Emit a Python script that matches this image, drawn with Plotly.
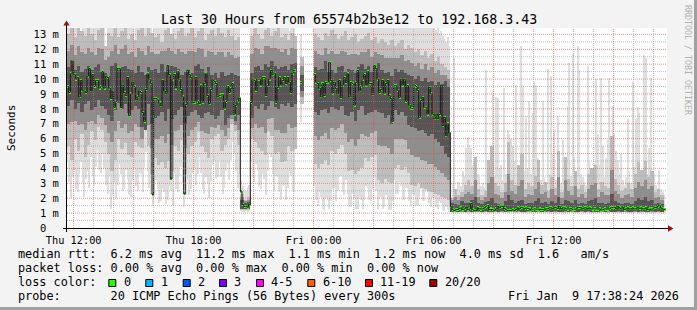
import numpy as np
import pandas as pd
import plotly.graph_objects as go

# ---------------- data ----------------
T_START = "2026-01-08 11:40:00"
T_END = "2026-01-09 17:40:00"
MEDIAN_STEP_MIN = 5
SMOKE_STEP_MIN = 10
Y_MAX = 13.43

x_tick_vals = ["2026-01-08 12:00", "2026-01-08 18:00", "2026-01-09 00:00",
               "2026-01-09 06:00", "2026-01-09 12:00"]
x_tick_text = ["Thu 12:00", "Thu 18:00", "Fri 00:00", "Fri 06:00", "Fri 12:00"]
y_tick_vals = [0, 1, 2, 3, 4, 5, 6, 7, 8, 9, 10, 11, 12, 13]
y_tick_text = ["0\u00a0\u00a0", "1 m", "2 m", "3 m", "4 m", "5 m", "6 m", "7 m",
               "8 m", "9 m", "10 m", "11 m", "12 m", "13 m"]

N = None
# median rtt (ms), one value per 5 minutes
median_ms = [
    9.5, 9.1, 10.35, 11.2, 10.3, 10.0, 10.1, 8.8, 9.9, 9.2,
    9.2, 9.1, 10.2, 10.7, 9.2, 10.3, 9.5, 9.9, 9.9, 9.4,
    9.5, 10.5, 9.4, 10.2, 10.1, 9.4, 8.7, 9.2, 8.1, 8.5,
    10.7, 10.7, 8.1, 9.6, 9.1, 8.9, 10.1, 7.56, 9.0, 9.8,
    9.5, 8.6, 8.8, 9.2, 9.1, 7.76, 7.16, 9.3, 10.35, 10.0,
    9.7, 2.25, 8.7, 8.7, 8.6, 8.4, 8.2, 9.9, 9.2, 9.0,
    10.9, 10.3, 3.3, 10.0, 10.3, 9.4, 10.5, 10.0, 9.3, 8.8,
    2.3, 8.3, 10.6, 10.3, 10.1, 8.4, 8.45, 10.1, 8.5, 8.35,
    9.55, 8.45, 9.7, 10.35, 8.9, 8.35, 9.3, 10.0, 9.85, 9.7,
    8.8, 8.9, 8.95, 8.95, 8.05, 8.5, 9.5, 9.1, 9.35, 9.7,
    7.65, 8.25, 8.5, 8.7, 2.47, 1.58, 1.43, 1.47, 1.4, 1.58,
    8.43, 10.0, 9.9, 9.25, 10.0, 10.0, 9.6, 10.1, 10.1, 8.9,
    9.55, 10.0, 10.58, 10.3, 10.4, 8.43, 9.45, 10.1, 9.6, 9.9,
    10.1, 9.7, 10.1, 9.8, 9.1, 10.4, 10.58, N, N, N,
    9.77, N, N, N, N, N, N, N, 10.3, 9.8,
    9.7, 9.4, 8.8, 9.7, 8.9, 9.77, 9.8, 11.1, 9.9, 9.06,
    9.8, 9.35, 9.0, 9.9, 8.77, 9.6, 10.1, 9.77, 10.35, 8.8,
    9.77, 9.7, 8.25, 9.77, 10.58, 9.2, 9.5, 10.0, 10.3, 9.6,
    10.5, 9.7, 9.7, 8.95, 10.9, 10.7, 10.0, 9.1, 9.3, 9.9,
    9.06, 9.7, 9.9, 8.88, 8.68, 7.16, 9.55, 9.55, 9.25, 8.77,
    10.0, 9.6, 10.0, 8.5, 9.55, 8.25, 8.05, 8.0, 9.6, 9.5,
    9.25, 7.43, 8.55, 8.77, 8.12, 8.1, 7.65, 9.45, 9.0, 7.65,
    7.33, 7.65, 7.33, 7.62, 9.6, 6.87, 7.43, 6.2, 7.0, 6.38,
    1.42, 1.24, 1.17, 1.24, 1.24, 1.31, 1.35, 1.24, 1.28, 1.40,
    1.24, 1.28, 1.64, 1.24, 1.17, 1.17, 1.35, 1.28, 1.24, 1.28,
    1.35, 1.46, 1.51, 1.24, 1.28, 1.24, 1.17, 1.28, 1.46, 1.35,
    1.46, 1.46, 1.31, 1.24, 1.17, 1.17, 1.17, 1.24, 1.17, 1.24,
    1.35, 1.28, 1.40, 1.35, 1.28, 1.35, 1.31, 1.28, 1.20, 1.24,
    1.28, 1.24, 1.24, 1.28, 1.24, 1.24, 1.20, 1.28, 1.28, 1.35,
    1.35, 1.28, 1.40, 1.35, 1.31, 1.46, 1.28, 1.35, 1.35, 1.28,
    1.24, 1.28, 1.31, 1.24, 1.24, 1.28, 1.40, 1.35, 1.35, 1.28,
    1.35, 1.35, 1.28, 1.35, 1.28, 1.24, 1.28, 1.24, 1.24, 1.28,
    1.20, 1.24, 1.28, 1.24, 1.24, 1.28, 1.35, 1.35, 1.40, 1.28,
    1.46, 1.35, 1.28, 1.40, 1.24, 1.28, 1.35, 1.28, 1.28, 1.35,
    1.28, 1.28, 1.40, 1.31, 1.35, 1.28, 1.28, 1.35, 1.24, 1.28,
    1.28, 1.28, 1.40, 1.35, 1.46, 1.53, 1.35, 1.28, 1.24, N,
]

# fastest / slowest ping (ms), one value per 5 minutes
ping_min = [
    4.6, 3.1, 2.0, 3.4, 3.9, 2.6, 2.4, 3.6, 4.4, 3.0,
    2.1, 3.3, 3.8, 2.7, 4.8, 3.5, 2.9, 4.1, 5.2, 3.9,
    3.7, 5.0, 4.0, 2.9, 2.3, 3.5, 1.3, 2.2, 3.0, 2.0,
    2.9, 4.3, 3.6, 2.5, 2.6, 3.9, 3.3, 2.2, 2.1, 3.2,
    4.0, 2.8, 2.5, 3.7, 3.6, 2.4, 4.0, 5.1, 3.8, 2.7,
    2.3, 1.5, 2.1, 3.2, 2.6, 1.7, 1.8, 2.7, 2.4, 1.6,
    1.9, 2.8, 2.5, 1.5, 3.7, 2.6, 2.4, 3.5, 4.1, 3.0,
    1.4, 2.3, 3.3, 2.2, 2.6, 3.7, 4.0, 2.9, 3.6, 4.8,
    3.7, 2.6, 2.3, 3.4, 3.0, 2.0, 3.1, 4.2, 4.5, 3.3,
    3.4, 4.6, 3.4, 2.3, 2.7, 3.8, 4.3, 3.2, 4.6, 5.8,
    5.0, 3.8, 2.7, 3.6, 1.15, 1.1, 1.1, 1.12, 1.1, 1.15,
    4.5, 3.4, 3.1, 4.3, 3.9, 2.8, 2.6, 3.6, 3.3, 2.2,
    3.8, 5.0, 4.8, 3.6, 2.5, 3.5, 3.4, 2.4, 1.9, 2.8,
    2.9, 1.9, 2.7, 3.8, 3.5, 2.5, 2.4, N, N, N,
    7.1, N, N, N, N, N, N, N, 2.8, 1.9,
    1.5, 2.4, 2.1, 1.3, 1.2, 2.0, 1.9, 1.25, 1.8, 2.6,
    2.7, 1.8, 2.5, 3.4, 3.5, 2.4, 2.2, 3.2, 2.2, 1.4,
    1.4, 2.3, 2.0, 1.3, 1.3, 2.1, 1.9, 1.3, 1.9, 2.8,
    2.7, 1.9, 1.8, 2.6, 3.4, 2.5, 1.3, 2.0, 2.1, 1.3,
    1.4, 2.2, 1.9, 1.2, 1.2, 1.8, 3.2, 2.3, 2.3, 3.1,
    2.8, 1.9, 1.9, 2.7, 2.6, 1.8, 1.5, 2.3, 2.2, 1.5,
    1.5, 2.1, 2.6, 1.8, 1.8, 2.5, 2.4, 1.7, 1.4, 2.0,
    2.0, 1.4, 1.3, 1.8, 1.7, 1.2, 1.15, 1.4, 1.2, 1.1,
    1.05, 1.03, 1.02, 1.04, 1.04, 1.06, 1.03, 1.02, 1.05, 1.03,
    1.02, 1.04, 1.04, 1.03, 1.06, 1.02, 1.03, 1.05, 1.02, 1.04,
    1.04, 1.06, 1.05, 1.03, 1.03, 1.02, 1.02, 1.05, 1.04, 1.03,
    1.06, 1.04, 1.03, 1.05, 1.02, 1.03, 1.05, 1.06, 1.04, 1.02,
    1.03, 1.05, 1.02, 1.04, 1.04, 1.02, 1.05, 1.03, 1.03, 1.06,
    1.06, 1.03, 1.02, 1.04, 1.04, 1.05, 1.03, 1.02, 1.02, 1.04,
    1.03, 1.05, 1.02, 1.03, 1.06, 1.04, 1.04, 1.02, 1.02, 1.03,
    1.04, 1.06, 1.05, 1.02, 1.02, 1.04, 1.03, 1.05, 1.05, 1.03,
    1.02, 1.03, 1.06, 1.04, 1.03, 1.02, 1.04, 1.05, 1.02, 1.03,
    1.04, 1.06, 1.03, 1.02, 1.03, 1.04, 1.05, 1.03, 1.02, 1.04,
    1.04, 1.02, 1.03, 1.05, 1.06, 1.04, 1.02, 1.03, 1.04, 1.02,
    1.03, 1.05, 1.02, 1.04, 1.04, 1.03, 1.05, 1.02, 1.03, 1.04,
    1.04, 1.02, 1.02, 1.03, 1.05, 1.04, 1.04, 1.05, 1.02, N,
]
ping_max = [
    13.8, 13.8, 13.8, 13.8, 13.8, 13.8, 13.6, 13.8, 12.9, 13.8,
    13.8, 13.8, 13.8, 13.8, 13.8, 13.8, 13.8, 13.8, 13.8, 13.8,
    13.8, 13.8, 13.8, 10.9, 13.8, 13.8, 13.8, 13.8, 13.8, 13.8,
    13.8, 13.8, 13.8, 13.8, 13.8, 13.8, 13.8, 13.8, 13.8, 13.8,
    11.0, 13.8, 13.8, 13.8, 13.8, 13.8, 13.8, 13.8, 13.8, 13.8,
    13.8, 9.9, 13.8, 13.8, 13.8, 13.8, 13.8, 13.8, 13.8, 13.8,
    13.8, 13.8, 10.4, 13.8, 13.8, 13.8, 13.8, 13.8, 13.8, 13.8,
    13.8, 13.8, 13.8, 13.8, 13.8, 13.8, 13.8, 13.8, 13.8, 13.8,
    13.8, 13.8, 13.8, 13.8, 13.8, 13.8, 13.8, 13.8, 13.8, 13.8,
    13.8, 13.8, 13.8, 13.8, 13.8, 13.8, 13.8, 13.8, 13.8, 13.8,
    13.8, 13.8, 13.8, 13.8, 3.2, 2.8, 2.6, 2.5, 2.7, 2.9,
    13.8, 13.8, 13.8, 13.8, 13.8, 13.8, 13.8, 13.8, 13.8, 13.8,
    13.8, 13.8, 13.8, 13.8, 13.8, 13.8, 13.8, 13.8, 13.8, 13.8,
    13.8, 13.8, 13.8, 13.2, 13.8, 13.8, 13.5, N, N, N,
    13.0, N, N, N, N, N, N, N, 13.8, 13.8,
    13.8, 13.8, 13.8, 13.8, 13.8, 13.8, 13.8, 13.8, 13.8, 13.8,
    13.8, 13.8, 13.8, 13.8, 13.8, 13.8, 13.8, 13.8, 13.8, 13.8,
    13.8, 13.8, 13.8, 13.8, 13.8, 13.8, 13.8, 13.8, 13.8, 13.8,
    13.8, 13.8, 13.8, 13.8, 13.8, 13.8, 13.8, 13.8, 13.8, 13.8,
    13.8, 13.8, 13.8, 13.8, 13.8, 13.8, 13.8, 13.8, 13.8, 13.8,
    13.8, 13.8, 13.8, 13.8, 13.8, 13.8, 13.8, 13.8, 13.8, 13.8,
    13.8, 13.8, 13.8, 13.8, 13.8, 13.8, 13.8, 13.8, 13.8, 13.8,
    13.5, 13.3, 13.6, 13.1, 13.2, 12.9, 12.7, 12.5, 12.8, 12.2,
    2.0, 3.0, 11.4, 2.6, 3.1, 3.1, 2.8, 3.8, 3.5, 5.4,
    6.1, 5.6, 5.4, 4.2, 4.4, 3.0, 3.6, 3.4, 2.8, 3.0,
    2.7, 10.6, 4.6, 4.3, 3.0, 9.3, 3.5, 8.8, 8.7, 4.0,
    4.2, 3.2, 9.4, 3.6, 6.6, 6.3, 6.0, 5.5, 4.5, 9.6,
    3.4, 3.0, 12.2, 9.6, 3.8, 7.5, 4.0, 8.5, 3.6, 7.7,
    9.8, 9.6, 4.7, 4.4, 3.2, 8.5, 3.4, 3.0, 10.7, 3.6,
    10.2, 5.0, 6.6, 3.2, 7.5, 3.8, 3.0, 5.9, 4.0, 3.3,
    8.2, 11.05, 3.5, 11.7, 4.8, 3.1, 12.2, 10.6, 3.6, 3.4,
    3.1, 2.9, 10.9, 4.4, 3.3, 2.9, 2.7, 10.0, 6.3, 4.2,
    10.1, 5.5, 3.4, 4.7, 5.9, 10.1, 4.0, 8.2, 6.3, 5.2,
    4.6, 3.6, 5.0, 3.2, 2.9, 3.4, 7.3, 3.8, 3.0, 9.8,
    4.1, 7.3, 8.1, 7.7, 3.9, 3.3, 11.6, 11.4, 3.6, 5.4,
    10.1, 3.2, 3.6, 2.9, 2.7, 3.9, 2.6, 2.4, 2.2, N,
]

# inner smoke bands (ms), one value per 10 minutes
mid_lo = [
    5.5, 4.6, 6.0, 5.2, 6.3, 4.8, 5.6, 6.5, 5.9, 6.8,
    6.6, 5.8, 5.0, 3.8, 4.6, 6.0, 5.3, 5.7, 4.9, 4.8,
    5.8, 5.5, 5.4, 6.8, 5.5, 3.6, 4.7, 4.2, 4.4, 4.0,
    4.5, 3.8, 5.5, 5.2, 5.9, 3.6, 5.0, 5.5, 5.8, 6.5,
    5.5, 5.1, 4.7, 6.0, 6.2, 6.3, 5.2, 5.6, 6.0, 7.0,
    6.5, 5.6, 1.2, 1.2, 1.2, 6.0, 5.8, 5.4, 5.2, 4.9,
    6.5, 6.2, 5.0, 5.1, 4.4, 4.5, 5.5, 5.2, 5.3, N,
    8.3, N, N, N, 4.3, 4.0, 4.3, 4.6, 4.2, 5.2,
    5.0, 5.3, 5.6, 5.0, 3.8, 3.9, 3.6, 3.8, 4.0, 4.7,
    4.5, 4.8, 4.9, 3.2, 3.0, 3.3, 3.1, 3.0, 4.0, 4.2,
    3.9, 4.1, 3.7, 2.9, 2.8, 3.0, 2.7, 2.6, 2.5, 2.4,
    2.3, 2.2, 2.1, 2.0, 1.9, 1.08, 1.06, 1.08, 1.07, 1.06,
    1.07, 1.08, 1.09, 1.06, 1.07, 1.08, 1.06, 1.07, 1.08, 1.06,
    1.09, 1.07, 1.06, 1.08, 1.07, 1.06, 1.08, 1.07, 1.09, 1.06,
    1.08, 1.06, 1.07, 1.08, 1.06, 1.07, 1.06, 1.08, 1.07, 1.06,
    1.07, 1.08, 1.09, 1.07, 1.06, 1.07, 1.08, 1.06, 1.07, 1.08,
    1.06, 1.07, 1.08, 1.06, 1.07, 1.09, 1.06, 1.07, 1.08, 1.06,
    1.07, 1.06, 1.08, 1.07, 1.06, 1.08, 1.07, 1.06, 1.08, N,
]
mid_hi = [
    13.0, 13.4, 12.8, 13.6, 13.2, 12.9, 13.4, 13.0, 12.6, 13.3,
    13.5, 12.2, 13.1, 12.9, 13.4, 12.8, 13.2, 13.6, 12.7, 13.0,
    12.6, 13.3, 13.4, 12.9, 13.6, 13.1, 12.8, 13.0, 12.5, 13.3,
    13.6, 13.0, 12.7, 13.2, 13.4, 12.9, 13.1, 13.5, 12.8, 13.2,
    13.4, 12.6, 13.0, 13.3, 12.9, 13.5, 13.1, 12.8, 13.3, 12.9,
    12.6, 12.8, 2.3, 1.9, 2.1, 12.9, 13.4, 13.0, 12.7, 13.3,
    13.5, 12.9, 13.2, 13.4, 12.8, 13.0, 12.6, 13.1, 12.9, N,
    11.5, N, N, N, 13.0, 12.8, 12.6, 13.1, 12.9, 13.3,
    13.0, 12.7, 12.9, 13.2, 12.6, 12.8, 13.0, 12.5, 12.7, 12.9,
    13.1, 12.6, 12.8, 12.4, 12.7, 12.5, 12.3, 12.6, 12.2, 12.4,
    12.6, 12.0, 12.3, 12.1, 11.8, 12.0, 11.6, 11.9, 11.4, 11.7,
    11.2, 11.5, 11.0, 10.8, 10.6, 2.0, 2.6, 2.2, 2.4, 2.9,
    3.2, 2.8, 4.8, 2.6, 2.2, 2.5, 4.6, 5.5, 3.0, 2.8,
    2.4, 3.0, 5.8, 3.2, 2.9, 4.2, 5.0, 2.6, 3.0, 2.8,
    3.5, 4.6, 2.9, 3.1, 2.5, 3.4, 2.7, 5.2, 2.4, 4.8,
    3.3, 2.8, 3.8, 2.6, 2.9, 2.4, 3.6, 4.0, 4.2, 2.6,
    3.1, 2.8, 2.7, 6.2, 3.3, 2.9, 2.5, 2.7, 3.0, 2.6,
    3.6, 4.4, 3.9, 4.5, 3.4, 3.8, 2.4, 2.6, 2.2, N,
]
quart_lo = [
    7.0, 7.1, 7.2, 6.9, 7.0, 6.6, 7.1, 7.2, 7.0, 7.6,
    7.4, 6.9, 6.4, 5.8, 6.5, 7.2, 6.7, 7.0, 6.4, 6.5,
    7.0, 6.8, 6.0, 6.7, 6.9, 5.4, 6.0, 6.0, 6.2, 5.7,
    6.3, 5.6, 6.5, 6.6, 6.9, 5.4, 6.2, 6.6, 6.8, 7.1,
    6.5, 6.4, 6.3, 6.8, 6.7, 6.9, 6.6, 6.2, 6.7, 7.3,
    6.9, 6.6, 1.25, 1.25, 1.25, 6.7, 7.0, 6.7, 6.8, 6.4,
    7.3, 7.4, 6.6, 6.6, 6.4, 6.4, 7.0, 6.7, 6.8, N,
    8.8, N, N, N, 6.2, 5.9, 6.2, 6.4, 6.0, 6.7,
    6.6, 6.7, 7.0, 6.4, 5.8, 6.0, 5.5, 6.0, 6.3, 6.2,
    6.1, 6.4, 6.5, 5.6, 5.5, 5.5, 5.4, 5.0, 6.0, 6.0,
    6.0, 5.9, 5.3, 4.9, 4.8, 4.8, 4.6, 4.5, 4.3, 4.3,
    4.1, 3.9, 3.7, 3.4, 3.2, 1.09, 1.08, 1.09, 1.1, 1.08,
    1.09, 1.1, 1.08, 1.09, 1.08, 1.1, 1.09, 1.08, 1.1, 1.09,
    1.08, 1.09, 1.1, 1.08, 1.09, 1.08, 1.1, 1.09, 1.08, 1.1,
    1.09, 1.08, 1.1, 1.09, 1.08, 1.1, 1.09, 1.08, 1.09, 1.1,
    1.08, 1.09, 1.1, 1.08, 1.09, 1.1, 1.08, 1.09, 1.08, 1.1,
    1.09, 1.08, 1.1, 1.09, 1.08, 1.09, 1.1, 1.08, 1.09, 1.08,
    1.1, 1.09, 1.08, 1.1, 1.09, 1.08, 1.09, 1.1, 1.08, N,
]
quart_hi = [
    11.9, 12.3, 11.6, 12.2, 11.8, 11.7, 12.1, 11.8, 11.6, 12.1,
    12.0, 11.3, 11.5, 11.9, 12.3, 11.7, 12.0, 12.3, 11.7, 11.8,
    11.5, 12.1, 11.9, 11.6, 12.2, 11.8, 11.7, 11.7, 11.9, 11.9,
    12.1, 11.9, 11.7, 12.0, 11.8, 11.7, 11.9, 11.9, 11.8, 12.1,
    12.0, 11.5, 11.9, 11.8, 11.6, 11.8, 11.8, 11.5, 11.8, 11.6,
    11.4, 11.5, 2.1, 1.8, 1.9, 11.7, 12.1, 12.0, 11.7, 12.2,
    12.2, 12.1, 12.1, 12.0, 11.8, 12.0, 11.6, 12.1, 12.0, N,
    10.9, N, N, N, 11.9, 11.7, 11.6, 12.1, 11.7, 11.9,
    11.7, 11.7, 11.9, 11.8, 11.6, 11.7, 11.7, 11.6, 11.8, 11.8,
    12.0, 11.5, 11.8, 11.7, 11.6, 11.4, 11.4, 11.4, 11.4, 11.4,
    11.6, 11.2, 11.3, 11.1, 10.9, 11.1, 10.7, 11.0, 10.6, 10.8,
    10.4, 10.6, 10.3, 10.3, 10.0, 1.85, 2.1, 1.9, 2.1, 2.3,
    2.4, 2.3, 3.2, 2.1, 1.9, 2.1, 3.0, 3.4, 2.3, 2.2,
    2.0, 2.4, 3.6, 2.5, 2.3, 2.8, 3.2, 2.1, 2.3, 2.2,
    2.6, 3.1, 2.3, 2.4, 2.0, 2.6, 2.2, 3.4, 2.0, 3.2,
    2.5, 2.2, 2.8, 2.1, 2.3, 2.0, 2.6, 2.9, 3.0, 2.1,
    2.4, 2.2, 2.2, 3.9, 2.5, 2.3, 2.0, 2.2, 2.3, 2.1,
    2.7, 3.1, 2.8, 3.2, 2.6, 2.8, 2.0, 2.1, 1.9, N,
]
dark_lo = [
    8.2, 8.6, 8.0, 8.4, 7.8, 8.3, 8.5, 7.9, 8.1, 8.6,
    8.2, 8.0, 7.6, 7.2, 7.9, 8.4, 8.0, 8.3, 7.7, 7.9,
    8.2, 8.0, 6.8, 6.6, 8.3, 7.0, 7.4, 7.5, 7.8, 7.2,
    8.0, 7.3, 7.6, 7.9, 8.1, 7.0, 7.5, 7.8, 7.9, 7.6,
    7.4, 7.7, 7.8, 7.6, 7.3, 7.5, 7.9, 6.9, 7.4, 7.6,
    7.2, 7.6, 1.3, 1.3, 1.3, 7.4, 8.2, 8.0, 8.3, 7.9,
    8.2, 8.5, 8.1, 8.0, 8.3, 8.2, 8.4, 8.1, 8.3, N,
    9.2, N, N, N, 7.8, 7.6, 7.9, 8.0, 7.7, 8.1,
    8.0, 7.9, 8.2, 7.6, 7.5, 7.8, 7.2, 7.9, 8.2, 7.6,
    7.7, 7.8, 7.9, 7.8, 7.7, 7.4, 7.6, 7.0, 7.9, 7.6,
    7.8, 7.5, 6.9, 6.8, 6.7, 6.5, 6.6, 6.4, 6.2, 6.3,
    6.0, 5.8, 5.5, 5.0, 4.8, 1.1, 1.09, 1.1, 1.12, 1.1,
    1.11, 1.09, 1.1, 1.12, 1.1, 1.11, 1.09, 1.1, 1.12, 1.1,
    1.11, 1.1, 1.09, 1.12, 1.1, 1.11, 1.1, 1.09, 1.12, 1.1,
    1.1, 1.11, 1.09, 1.1, 1.12, 1.1, 1.11, 1.1, 1.09, 1.12,
    1.1, 1.11, 1.1, 1.09, 1.12, 1.1, 1.11, 1.1, 1.09, 1.1,
    1.12, 1.1, 1.11, 1.09, 1.1, 1.12, 1.1, 1.11, 1.09, 1.1,
    1.11, 1.1, 1.12, 1.09, 1.1, 1.11, 1.1, 1.12, 1.1, N,
]
dark_hi = [
    10.8, 11.3, 10.6, 10.9, 10.5, 10.7, 10.9, 10.6, 10.8, 11.0,
    10.5, 10.4, 10.2, 10.9, 11.1, 10.6, 10.8, 10.9, 10.7, 10.6,
    10.4, 10.9, 10.5, 10.3, 10.8, 10.6, 10.7, 10.4, 11.0, 10.5,
    10.6, 10.9, 10.8, 10.7, 10.3, 10.5, 10.6, 10.4, 10.9, 11.0,
    10.7, 10.4, 10.8, 10.3, 10.4, 10.1, 10.5, 10.2, 10.3, 10.4,
    10.3, 10.2, 1.9, 1.65, 1.75, 10.4, 10.8, 10.9, 10.6, 11.0,
    10.8, 11.2, 10.9, 10.7, 10.8, 10.9, 10.6, 11.0, 11.1, N,
    10.3, N, N, N, 10.8, 10.6, 10.7, 11.2, 10.5, 10.6,
    10.4, 10.8, 10.9, 10.5, 10.7, 10.6, 10.4, 10.8, 11.0, 10.7,
    10.9, 10.5, 10.8, 11.1, 10.6, 10.4, 10.5, 10.2, 10.7, 10.5,
    10.6, 10.4, 10.3, 10.2, 10.0, 10.2, 9.9, 10.1, 9.8, 9.9,
    9.6, 9.8, 9.7, 9.9, 9.5, 1.7, 1.6, 1.55, 1.8, 1.7,
    1.65, 1.9, 2.1, 1.7, 1.6, 1.75, 1.8, 2.0, 1.7, 1.6,
    1.55, 1.8, 2.2, 1.9, 1.7, 1.8, 1.9, 1.6, 1.7, 1.65,
    1.8, 2.0, 1.7, 1.75, 1.6, 1.8, 1.7, 2.1, 1.6, 1.9,
    1.8, 1.65, 1.9, 1.6, 1.7, 1.6, 1.8, 1.9, 2.0, 1.65,
    1.7, 1.6, 1.7, 2.3, 1.8, 1.7, 1.6, 1.65, 1.7, 1.6,
    1.8, 2.0, 1.9, 2.1, 1.8, 1.9, 1.6, 1.7, 1.6, N,
]

title_text = "Last 30 Hours from 65574b2b3e12 to 192.168.3.43"
y_title = "Seconds"
rtt_label = "median rtt:"
rtt_stats = ["6.2 ms avg", "11.2 ms max", "1.1 ms min", "1.2 ms now", "4.0 ms sd", "1.6", "am/s"]
loss_label = "packet loss:"
loss_stats = ["0.00 % avg", "0.00 % max", "0.00 % min", "0.00 % now"]
color_label = "loss color:"
loss_names = ["0", "1", "2", "3", "4-5", "6-10", "11-19", "20/20"]
loss_colors = ["#26ff00", "#00b8ff", "#0059ff", "#7e00ff", "#ff00ff", "#ff5e00", "#ff0000", "#a10000"]
probe_label = "probe:"
probe_text = "20 ICMP Echo Pings (56 Bytes) every 300s"
stamp_text = "Fri Jan\u00a0\u00a09 17:38:24 2026"
watermark = "RRDTOOL / TOBI OETIKER"

# ---------------- figure ----------------
W, H = 697, 310
L, R, T, B = 67, 30, 28, 82
PW, PH = W - L - R, H - T - B
MONO = "DejaVu Sans Mono"
NB = "\u00a0"


def px2x(px):
    return (px - L) / PW


def py2y(py):
    return (T + PH - py) / PH


t0 = pd.Timestamp(T_START)
med = np.array(median_ms, dtype=float)
m_left = t0 + pd.to_timedelta(np.arange(len(med)) * MEDIAN_STEP_MIN, unit="min")
m_step = pd.Timedelta(minutes=MEDIAN_STEP_MIN)
m_center = m_left + m_step / 2
m_width = MEDIAN_STEP_MIN * 60 * 1000

k_idx = np.arange(len(mid_lo))
s_center = t0 + pd.to_timedelta(k_idx * SMOKE_STEP_MIN + SMOKE_STEP_MIN / 2, unit="min")
s_width = SMOKE_STEP_MIN * 60 * 1000

fig = go.Figure()


def band(xc, width, lo, hi, color):
    lo = np.array(lo, dtype=float)
    hi = np.array(hi, dtype=float)
    fig.add_trace(go.Bar(x=xc, y=hi - lo, base=lo, width=width,
                         marker=dict(color=color, line=dict(width=0)),
                         hoverinfo="skip", showlegend=False))


band(m_center, m_width, ping_min, ping_max, "#dedede")
band(s_center, s_width, mid_lo, mid_hi, "#bdbdbd")
band(s_center, s_width, quart_lo, quart_hi, "#8e8e8e")
band(s_center, s_width, dark_lo, dark_hi, "#555555")

# median step line (dark)
xs, ys = [], []
for i, v in enumerate(med):
    if np.isnan(v):
        if xs and xs[-1] is not None:
            xs.append(None)
            ys.append(None)
        continue
    xs += [m_left[i], m_left[i] + m_step]
    ys += [v, v]
fig.add_trace(go.Scatter(x=xs, y=ys, mode="lines", line=dict(color="#181818", width=1),
                         hoverinfo="skip", showlegend=False, connectgaps=False))

# median marks in loss colour (0 loss -> green)
box_h = 0.2
fig.add_trace(go.Bar(x=m_center, y=np.where(np.isnan(med), np.nan, box_h),
                     base=med - box_h / 2, width=m_width * 1.2,
                     marker=dict(color=loss_colors[0], line=dict(width=0)),
                     hoverinfo="skip", showlegend=False))

shapes = []
# grid (drawn above data like rrdtool)
MINOR = "rgba(150,150,150,0.6)"
MAJOR = "rgba(235,70,70,0.6)"
for v in np.arange(0.5, Y_MAX, 1.0):
    shapes.append(dict(type="line", xref="paper", yref="y", x0=0, x1=1, y0=v, y1=v,
                       line=dict(color=MINOR, width=1, dash="1px,1px"), layer="above"))
for v in y_tick_vals[1:]:
    shapes.append(dict(type="line", xref="paper", yref="y", x0=0, x1=1, y0=v, y1=v,
                       line=dict(color=MAJOR, width=1, dash="1px,1px"), layer="above"))
for h in pd.date_range("2026-01-08 12:00", "2026-01-09 17:00", freq="1h"):
    col = MAJOR if h.hour % 3 == 0 else MINOR
    shapes.append(dict(type="line", xref="x", yref="paper", x0=h, x1=h, y0=0, y1=1,
                       line=dict(color=col, width=1, dash="1px,1px"), layer="above"))

# axes lines + arrows
shapes.append(dict(type="line", xref="paper", yref="paper", x0=px2x(63), x1=px2x(670),
                   y0=py2y(228.5), y1=py2y(228.5), line=dict(color="black", width=1), layer="above"))
shapes.append(dict(type="line", xref="paper", yref="paper", x0=px2x(66.5), x1=px2x(66.5),
                   y0=py2y(232), y1=py2y(24), line=dict(color="black", width=1), layer="above"))
shapes.append(dict(type="path", xref="paper", yref="paper",
                   path=f"M {px2x(63.3)} {py2y(25.5)} L {px2x(69.7)} {py2y(25.5)} L {px2x(66.5)} {py2y(20.5)} Z",
                   fillcolor="#a01010", line=dict(width=0), layer="above"))
shapes.append(dict(type="path", xref="paper", yref="paper",
                   path=f"M {px2x(668)} {py2y(225.3)} L {px2x(668)} {py2y(231.7)} L {px2x(673.5)} {py2y(228.5)} Z",
                   fillcolor="#a01010", line=dict(width=0), layer="above"))

# page frame
shapes.append(dict(type="rect", xref="paper", yref="paper", x0=px2x(694), x1=px2x(697),
                   y0=py2y(310), y1=py2y(0), fillcolor="#a0a0a0", line=dict(width=0)))
shapes.append(dict(type="rect", xref="paper", yref="paper", x0=px2x(0), x1=px2x(697),
                   y0=py2y(310), y1=py2y(307), fillcolor="#a0a0a0", line=dict(width=0)))

# legend colour boxes
box_px = [108.3, 145.3, 182.7, 219.0, 256.0, 307.3, 365.0, 429.3]
for bx, c in zip(box_px, loss_colors):
    shapes.append(dict(type="rect", xref="paper", yref="paper", x0=px2x(bx + 0.5), x1=px2x(bx + 7.5),
                       y0=py2y(286.5), y1=py2y(279.5), fillcolor=c, line=dict(color="black", width=1)))

ann = []
FS = 11.83


def text(s, px, py, size=FS, anchor="left", color="#000000", angle=0):
    ann.append(dict(text=s, x=px2x(px), y=py2y(py), xref="paper", yref="paper",
                    xanchor=anchor, yanchor="middle", showarrow=False, textangle=angle,
                    font=dict(family=MONO, size=size, color=color)))


text(title_text, 348.5, 19, size=13.3, anchor="center")
text(y_title, 11, 128, size=11, anchor="center", angle=-90)
text(watermark, 688, 60, size=8.3, anchor="center", color="#b0b0b0", angle=90)

gaps1 = [2, 2, 2, 2, 2, 2, 3]
row1 = rtt_label
for g, s in zip(gaps1, rtt_stats):
    row1 += NB * g + s
text(row1, 16, 254)
row2 = loss_label + NB + (NB * 2).join(loss_stats)
text(row2, 16, 268.3)
text(color_label, 16, 282.3)
for bx, nm in zip(box_px, loss_names):
    text(nm, bx + 13.3, 282.3)
text(probe_label + NB * 7 + probe_text, 16, 296.3)
text(stamp_text, 680.5, 296.3, anchor="right")

fig.update_layout(
    width=W, height=H, autosize=False,
    margin=dict(l=L, r=R, t=T, b=B, pad=0),
    paper_bgcolor="#f3f3f3", plot_bgcolor="#ffffff",
    barmode="overlay", bargap=0,
    shapes=shapes, annotations=ann,
    showlegend=False,
    xaxis=dict(type="date", range=[T_START, T_END], showgrid=False, zeroline=False,
               showline=False, tickvals=x_tick_vals, ticktext=x_tick_text,
               ticks="outside", ticklen=3, tickcolor="rgba(0,0,0,0)",
               tickfont=dict(family=MONO, size=10.3, color="#000000"), fixedrange=True),
    yaxis=dict(range=[0, Y_MAX], showgrid=False, zeroline=False, showline=False,
               tickvals=y_tick_vals, ticktext=y_tick_text,
               ticks="outside", ticklen=5, tickcolor="rgba(0,0,0,0)",
               tickfont=dict(family=MONO, size=10.5, color="#000000"), fixedrange=True),
)

fig.write_html("out.html", config={"displayModeBar": False})
